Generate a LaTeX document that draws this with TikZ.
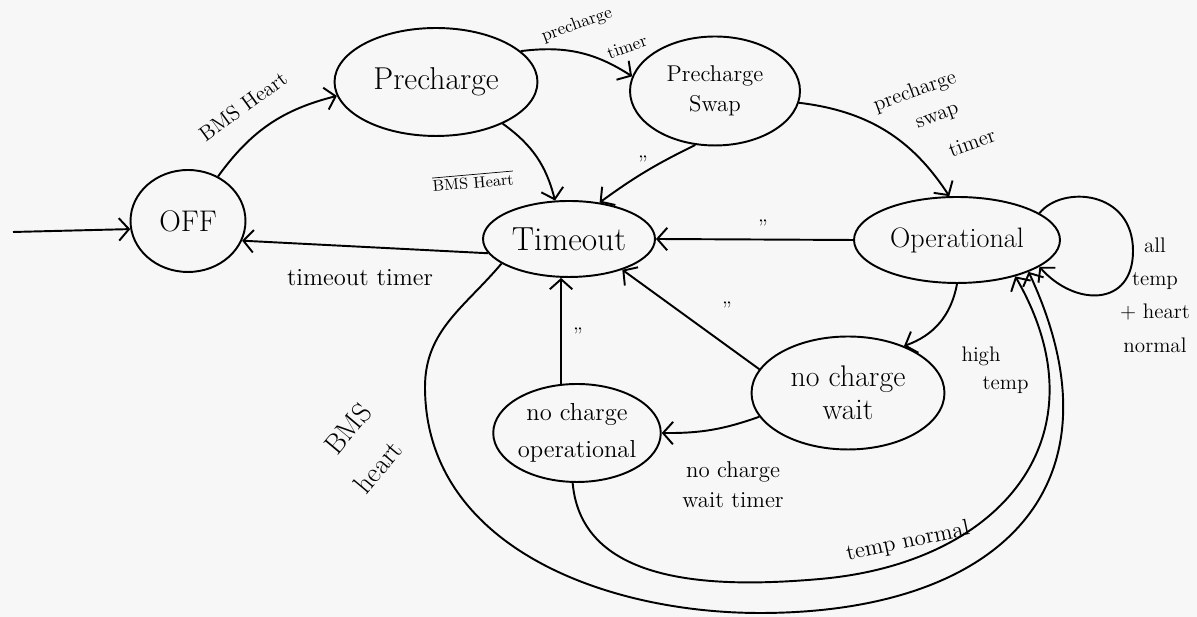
\documentclass[tikz,border=0pt]{standalone}
\usepackage{tikz}
\usetikzlibrary{arrows.meta,shapes.geometric}
\tikzset{
	state/.style={draw, ellipse, line width=1.1pt, inner sep=0pt},
	lbl/.style={inner sep=1pt, align=center},
}

\begin{document}
\begin{tikzpicture}[x=0.02cm, y=0.02cm, line width=1.1pt, >={Straight Barb[length=2mm,width=4.5mm]}]
		%%%%% START %%%%%
		\fill[black!3] (0, 0) rectangle (1197, 617);
		\useasboundingbox (0, 0) rectangle (1197, 617);
		
		% states
		\node[state, minimum width=2.3cm, minimum height=2.04cm, font=\fontsize{17}{19}\selectfont] (off) at (188, 396) {OFF};
		\node[state, minimum width=4.06cm, minimum height=2.16cm, font=\fontsize{18}{20}\selectfont] (pre) at (436, 535) {Precharge};
		\node[state, minimum width=3.4cm, minimum height=2.18cm, align=center, font=\fontsize{13}{17}\selectfont] (swap) at (715, 526) {Precharge\\Swap};
		\node[state, minimum width=3.44cm, minimum height=1.52cm, font=\fontsize{19}{21}\selectfont] (tout) at (569, 378) {Timeout};
		\node[state, minimum width=4.12cm, minimum height=1.72cm, font=\fontsize{16}{18}\selectfont] (oper) at (957, 377) {Operational};
		\node[state, minimum width=3.86cm, minimum height=2.26cm, align=center, font=\fontsize{17}{19}\selectfont] (ncw) at (848, 224) {no charge\\wait};
		\node[state, minimum width=3.32cm, minimum height=1.96cm, align=center, font=\fontsize{14}{21}\selectfont] (nco) at (577, 184) {no charge\\operational};
		
		\coordinate (init) at (13, 385);
		
		% transitions
		\draw[->] (init) -- (off.188);
		\draw[->] (off.56) to[bend left=20] (pre.188);
		\draw[->] (pre.20) to[bend left=20] (swap.170);
		\draw[->] (pre.-32) to[bend left=20] (tout.110);
		\draw[->] (swap.-110) to[bend right=5] (tout.50);
		\draw[->] (swap.-8) to[bend left=25] (oper.100);
		\draw[->] (oper.west) -- (tout.east);
		\draw[->] (tout.190) -- (off.-20);
		\draw[->] (oper.18) .. controls (1062, 432) and (1133, 427) .. (1133, 366)
			.. controls (1133, 310) and (1075, 310) .. (oper.-18);
		\draw[->] (oper.south) to[bend left=30] (ncw.40);
		\draw[->] (ncw.165) -- (tout.-30);
		\draw[->] (ncw.195) to[bend left=10] (nco.east);
		\draw[->] (nco.108) -- (nco.108 |- tout.south);
		\draw[->] (nco.-95) to[out=-85, in=185] (820, 38) to[out=5, in=-60, looseness=1.3] (oper.-32);
		\draw[->] (tout.-160) to[out=-130, in=90] (425, 230) to[out=-90, in=180] (760, 4)
			to[out=0, in=-65, looseness=1.4] (oper.-24);
		
		% labels
		\node[lbl, rotate=36, font=\fontsize{12}{14}\selectfont] (l1) at (243, 511) {BMS Heart};
		\node[lbl, rotate=20, font=\fontsize{10}{11}\selectfont] (l2a) at (577, 592) {precharge};
		\node[lbl, rotate=20, font=\fontsize{10}{11}\selectfont] (l2b) at (627, 570) {timer};
		\node[lbl, rotate=5, font=\fontsize{9}{11}\selectfont] (l3) at (473, 436) {$\overline{\mbox{BMS Heart}}$};
		\node[lbl, font=\fontsize{12}{14}\selectfont] (l4) at (643, 454) {''};
		\node[lbl, rotate=20, font=\fontsize{12}{14}\selectfont] (l5a) at (915, 525) {precharge};
		\node[lbl, rotate=20, font=\fontsize{12}{14}\selectfont] (l5b) at (938, 499) {swap};
		\node[lbl, rotate=20, font=\fontsize{12}{14}\selectfont] (l5c) at (972, 474) {timer};
		\node[lbl, font=\fontsize{12}{14}\selectfont] (l6) at (763, 390) {''};
		\node[lbl, font=\fontsize{14}{16}\selectfont] (l7) at (360, 339) {timeout timer};
		\node[lbl, font=\fontsize{12}{19}\selectfont] (l8) at (1155, 322) {all\\temp\\+ heart\\normal};
		\node[lbl, align=left, font=\fontsize{12}{16}\selectfont] (l9) at (995, 247) {high\\\hspace*{1em}temp};
		\node[lbl, font=\fontsize{12}{14}\selectfont] (l10) at (727, 308) {''};
		\node[lbl, font=\fontsize{13}{17}\selectfont] (l11) at (733, 132) {no charge\\wait timer};
		\node[lbl, font=\fontsize{12}{14}\selectfont] (l12) at (578, 282) {''};
		\node[lbl, rotate=12, font=\fontsize{13}{15}\selectfont] (l13) at (908, 75) {temp normal};
		\node[lbl, rotate=50, font=\fontsize{16}{18}\selectfont] (l14a) at (348, 188) {BMS};
		\node[lbl, rotate=50, font=\fontsize{16}{18}\selectfont] (l14b) at (378, 150) {heart};
		
		%%%%% END %%%%%
	\end{tikzpicture}
\end{document}
